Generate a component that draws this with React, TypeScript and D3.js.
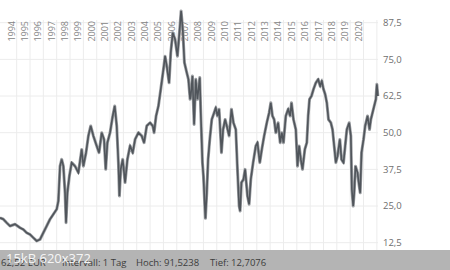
import React from "react";
import * as d3 from "d3";

const years: number[] = [
  1992.75, 1993.0, 1993.25, 1993.5, 1993.875, 1994.25, 1994.5, 1994.75, 1995.0, 1995.25,
  1995.5, 1995.75, 1996.0, 1996.25, 1996.5, 1996.75, 1997.0, 1997.125, 1997.25, 1997.375,
  1997.5, 1997.625, 1997.7, 1997.8, 1997.95, 1998.125, 1998.375, 1998.625, 1998.875, 1999.0,
  1999.2, 1999.375, 1999.55, 1999.75, 2000.0, 2000.175, 2000.375, 2000.55, 2000.675, 2000.8,
  2001.0, 2001.2, 2001.35, 2001.5, 2001.625, 2001.7, 2001.8, 2001.95, 2002.125, 2002.3,
  2002.5, 2002.7, 2002.875, 2003.125, 2003.375, 2003.55, 2003.75, 2004.0, 2004.2, 2004.3,
  2004.45, 2004.625, 2004.8, 2005.0, 2005.125, 2005.25, 2005.425, 2005.55, 2005.7, 2005.875,
  2006.05, 2006.2, 2006.325, 2006.45, 2006.575, 2006.75, 2006.875, 2007.0, 2007.05, 2007.175,
  2007.3, 2007.425, 2007.55, 2007.725, 2007.8, 2007.925, 2008.0, 2008.1, 2008.15, 2008.25,
  2008.35, 2008.475, 2008.625, 2008.8, 2008.925, 2009.05, 2009.175, 2009.35, 2009.475, 2009.625,
  2009.75, 2009.925, 2010.1, 2010.25, 2010.425, 2010.55, 2010.675, 2010.75, 2010.85, 2011.0,
  2011.125, 2011.3, 2011.425, 2011.55, 2011.725, 2011.925, 2012.05, 2012.225, 2012.375, 2012.55,
  2012.75, 2012.925, 2013.05, 2013.175, 2013.3, 2013.425, 2013.6, 2013.75, 2013.875, 2014.0,
  2014.175, 2014.35, 2014.5, 2014.6, 2014.75, 2014.925, 2015.05, 2015.175, 2015.3, 2015.425,
  2015.6, 2015.75, 2015.85, 2015.95, 2016.1, 2016.25, 2016.425, 2016.6, 2016.75, 2016.875,
  2017.0, 2017.125, 2017.25, 2017.375, 2017.55, 2017.675, 2017.8, 2017.925, 2018.05, 2018.225,
  2018.35, 2018.5, 2018.625, 2018.75, 2018.925, 2019.05, 2019.125, 2019.225, 2019.3, 2019.4,
  2019.55, 2019.675, 2019.75, 2019.85, 2020.0, 2020.125, 2020.3, 2020.45, 2020.55, 2020.675,
  2020.8, 2020.925, 2021.0, 2021.075,
];

const prices: number[] = [
  21.0, 20.5, 19.3, 18.2, 18.8, 17.6, 17.0, 15.9, 15.3, 14.2,
  13.1, 13.6, 15.9, 18.2, 20.5, 22.2, 23.9, 26.7, 38.6, 40.9,
  38.6, 29.5, 19.3, 29.5, 35.2, 39.8, 38.6, 36.4, 44.3, 38.6,
  43.2, 48.9, 52.3, 48.9, 45.5, 43.2, 50.0, 47.7, 37.5, 46.6,
  50.0, 55.7, 59.1, 52.3, 39.8, 28.4, 37.5, 40.9, 33.0, 40.9,
  45.5, 43.2, 47.7, 50.0, 48.9, 46.6, 52.3, 53.4, 52.3, 50.0,
  55.7, 59.1, 64.8, 71.6, 76.1, 72.7, 67.0, 77.3, 84.1, 81.8,
  76.1, 84.1, 91.5, 85.2, 73.9, 70.5, 68.2, 61.4, 62.5, 69.3,
  52.8, 68.2, 61.4, 68.8, 56.8, 39.8, 35.2, 25.0, 20.8, 29.5,
  40.9, 47.7, 54.5, 56.8, 58.5, 55.7, 58.0, 43.2, 51.1, 54.5,
  52.3, 48.9, 58.0, 53.4, 51.1, 37.5, 25.0, 23.3, 33.0, 34.1,
  37.5, 28.4, 25.6, 34.1, 39.8, 45.5, 46.6, 39.8, 44.3, 48.9,
  53.4, 56.8, 60.2, 55.7, 54.5, 50.0, 53.4, 46.6, 50.0, 46.6,
  55.7, 58.0, 55.7, 60.2, 54.5, 51.1, 38.6, 45.5, 40.9, 37.5,
  44.3, 46.6, 55.7, 61.4, 62.5, 64.8, 67.0, 68.2, 65.9, 67.6,
  64.8, 63.1, 60.2, 54.5, 53.4, 51.1, 45.5, 39.8, 42.0, 47.7,
  40.9, 39.8, 45.5, 51.1, 53.4, 48.9, 30.7, 25.0, 29.5, 38.6,
  36.4, 31.8, 29.5, 43.2, 47.7, 52.3, 55.7, 51.1, 54.5, 56.8,
  59.1, 61.4, 66.5, 62.5,
];

const yearTicks: number[] = d3.range(1994, 2022);
const yearLabels: number[] = d3.range(1994, 2021);
const valueTicks: number[] = [12.5, 25, 37.5, 50, 62.5, 75, 87.5];

const footerItems: string[] = ["Intervall: 1 Tag", "Hoch: 91,5238", "Tief: 12,7076"];
const footerLead = "62,52 EUR";
const watermark = "15kB 620x372";

const W = 450;
const H = 270;

export default function App() {
  const x = d3.scaleLinear().domain([1992.75, 2021.1]).range([0, 378.2]);
  const y = d3.scaleLinear().domain([12.5, 87.5]).range([242.7, 22.7]);
  const fmt = (v: number) => d3.format(".1f")(v).replace(".", ",");
  const pts: [number, number][] = years.map((t, i) => [t, prices[i]]);
  const line = d3
    .line<[number, number]>()
    .x((d) => x(d[0]))
    .y((d) => y(d[1]));
  const font = "'Open Sans', 'Noto Sans', sans-serif";
  const footerX = [62, 136, 210];
  const d = line(pts) || "";

  return (
    <svg
      width={W}
      height={H}
      style={{ position: "absolute", left: 0, top: 0, background: "#fff" }}
      fontFamily={font}
    >
      <rect x={0} y={0} width={W} height={H} fill="#fff" />
      {yearTicks.map((t) => (
        <line
          key={"vg" + t}
          x1={x(t)}
          x2={x(t)}
          y1={20}
          y2={250}
          stroke="#ececec"
          strokeWidth={1}
        />
      ))}
      {valueTicks.map((v) => (
        <line
          key={"hg" + v}
          x1={0}
          x2={378}
          y1={y(v)}
          y2={y(v)}
          stroke="#ececec"
          strokeWidth={1}
        />
      ))}
      {yearLabels.map((t) => (
        <text
          key={"yl" + t}
          transform={`translate(${x(t) - 2},21) rotate(-90)`}
          textAnchor="end"
          fontSize={9}
          fill="#858585"
        >
          {t}
        </text>
      ))}
      {valueTicks.map((v) => (
        <text
          key={"vl" + v}
          x={383}
          y={y(v)}
          dy="0.35em"
          fontSize={9.5}
          fill="#6e6e6e"
        >
          {fmt(v)}
        </text>
      ))}
      <path d={d} fill="none" stroke="#9a9da1" strokeWidth={3} strokeLinejoin="round" />
      <path d={d} fill="none" stroke="#50555b" strokeWidth={1.6} strokeLinejoin="miter" />
      <rect x={0} y={250} width={W} height={20} fill="#b4b4b4" />
      <text x={1} y={266} fontSize={9.5} fill="#3c3c3c">
        {footerLead}
      </text>
      {footerItems.map((s, i) => (
        <text key={"f" + i} x={footerX[i]} y={266} fontSize={9.5} fill="#3c3c3c">
          {s}
        </text>
      ))}
      <text x={6} y={263} fontSize={13} fill="#ffffff" fillOpacity={0.9}>
        {watermark}
      </text>
    </svg>
  );
}
